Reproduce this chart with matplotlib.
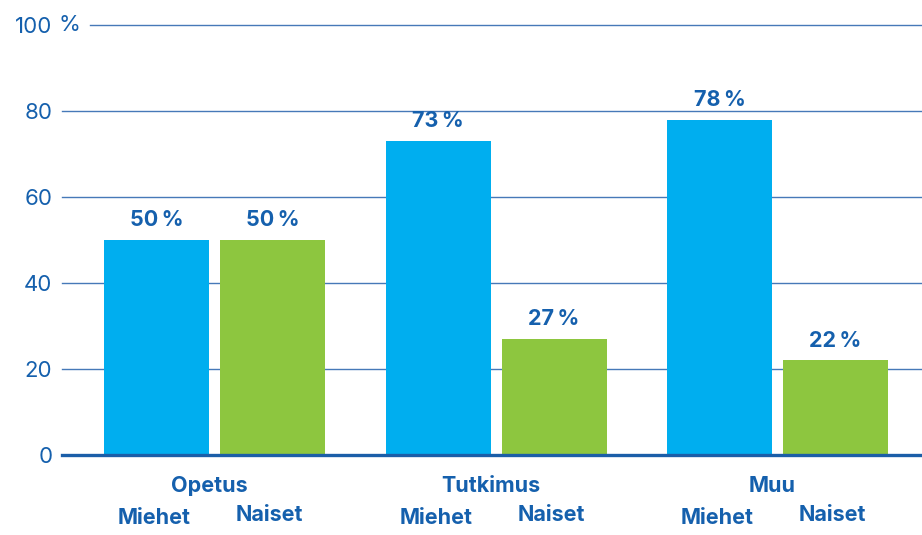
import matplotlib.pyplot as plt
import numpy as np

# osuudet (%) henkilöstöryhmittäin
groups = ["Opetus", "Tutkimus", "Muu"]
miehet = [50, 73, 78]
naiset = [50, 27, 22]
series_names = ["Miehet", "Naiset"]
yticks = [0, 20, 40, 60, 80, 100]

BLUE = "#00aeef"
GREEN = "#8dc63f"
TEXT = "#1560ad"
GRID = "#4679b8"

plt.rcParams["font.family"] = ["Inter", "DejaVu Sans"]

fig = plt.figure(figsize=(9.22, 5.35), dpi=100)
ax = fig.add_axes([62 / 922, 80 / 535, 860 / 922, 430 / 535])

x = np.arange(len(groups))
w = 0.373
off = 0.206

bars_m = ax.bar(x - off, miehet, w, color=BLUE, zorder=3)
bars_n = ax.bar(x + off, naiset, w, color=GREEN, zorder=3)

ax.set_xlim(-0.542, 2.513)
ax.set_ylim(0, 100)

# vaakaviivat
for t in yticks[1:]:
    xmin = 28 / 860 if t == 100 else 0
    ax.axhline(t, xmin=xmin, xmax=1, color=GRID, lw=1, zorder=1, clip_on=False)
ax.axhline(0, color="#1b5ea8", lw=2.4, zorder=4, clip_on=False)

for s in ax.spines.values():
    s.set_visible(False)

ax.set_xticks([])
ax.set_yticks(yticks)
ax.set_yticklabels([str(t) for t in yticks], fontsize=16, color=TEXT)
ax.tick_params(axis="y", length=0, pad=7)
ax.text(-0.542 + 7 / 281.5, 100, "%", fontsize=16, color=TEXT,
        ha="center", va="center", clip_on=False)

# arvot pylväiden päälle
for bars, vals in [(bars_m, miehet), (bars_n, naiset)]:
    for b, v in zip(bars, vals):
        ax.annotate(f"{v}\u2009%", (b.get_x() + b.get_width() / 2, v),
                    xytext=(0, 7), textcoords="offset points",
                    ha="center", va="bottom", fontsize=15.5, fontweight="bold",
                    color=TEXT)

tr = ax.get_xaxis_transform()
for i, g in enumerate(groups):
    ax.text(i - 0.018, -0.072, g, transform=tr, ha="center", va="center",
            fontsize=15.5, fontweight="bold", color=TEXT)
    ax.text(i - off - 0.008, -0.146, series_names[0], transform=tr, ha="center",
            va="center", fontsize=15.5, fontweight="bold", color=TEXT)
    ax.text(i + off - 0.01, -0.139, series_names[1], transform=tr, ha="center",
            va="center", fontsize=15.5, fontweight="bold", color=TEXT)

fig.savefig("out.png", dpi=100)
